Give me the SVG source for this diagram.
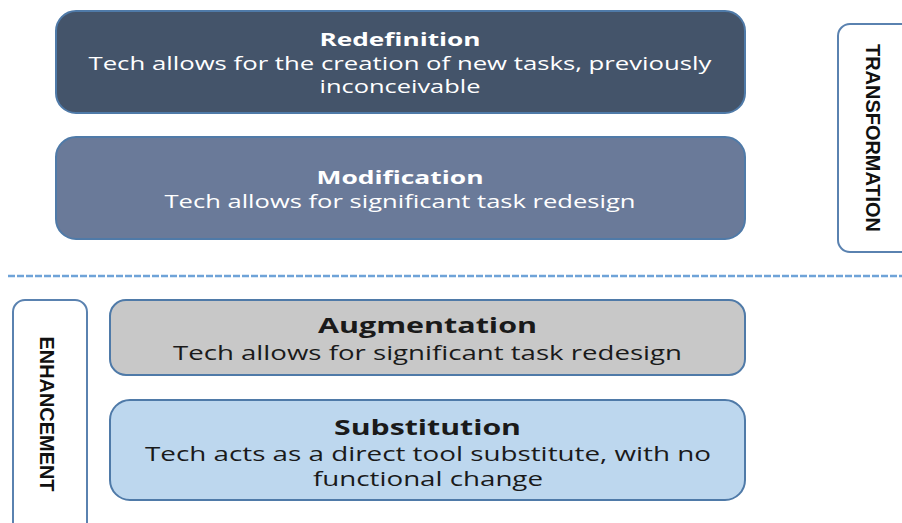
<svg xmlns="http://www.w3.org/2000/svg" width="902" height="523" viewBox="0 0 902 523">
<style>
.box{stroke:#4f7aa8;stroke-width:2}
.t{font-family:"Open Sans","Liberation Sans",sans-serif;text-anchor:middle}
.h{font-weight:bold}
.w{fill:#ffffff}
.k{fill:#1a1a1a}
.side{fill:#ffffff;stroke:#5a82b0;stroke-width:2}
.v{font-family:"Liberation Sans","DejaVu Sans",sans-serif;font-weight:bold;font-size:21px;fill:#111111;text-anchor:middle}
</style>
<rect width="902" height="523" fill="#ffffff"/>
<g id="redefinition">
<rect class="box" x="56" y="11" width="689" height="102" rx="20" fill="#44546a"/>
<text class="t h w" x="400" y="46" font-size="18" textLength="161" lengthAdjust="spacingAndGlyphs">Redefinition</text>
<text class="t w" x="400" y="70" font-size="18" textLength="623" lengthAdjust="spacingAndGlyphs">Tech allows for the creation of new tasks, previously</text>
<text class="t w" x="400" y="93" font-size="18" textLength="161" lengthAdjust="spacingAndGlyphs">inconceivable</text>
</g>
<g id="modification">
<rect class="box" x="56" y="137" width="689" height="102" rx="20" fill="#6a7a99"/>
<text class="t h w" x="400" y="184" font-size="18" textLength="167" lengthAdjust="spacingAndGlyphs">Modification</text>
<text class="t w" x="400" y="208" font-size="18" textLength="471" lengthAdjust="spacingAndGlyphs">Tech allows for significant task redesign</text>
</g>
<g id="transformation">
<rect class="side" x="838" y="24" width="80" height="228" rx="12"/>
<text class="v" transform="translate(866,138) rotate(90)" textLength="188" lengthAdjust="spacingAndGlyphs">TRANSFORMATION</text>
</g>
<g id="connectors">
<line x1="8" y1="276" x2="902" y2="276" stroke="#6fa3d8" stroke-width="2.5" stroke-dasharray="7 2"/>
</g>
<g id="enhancement">
<rect class="side" x="13" y="300" width="74" height="240" rx="12"/>
<text class="v" transform="translate(40,414) rotate(90)" textLength="155" lengthAdjust="spacingAndGlyphs">ENHANCEMENT</text>
</g>
<g id="augmentation">
<rect class="box" x="110" y="300" width="635" height="75" rx="16" fill="#c8c8c8"/>
<text class="t h k" x="427.5" y="333" font-size="22" textLength="219" lengthAdjust="spacingAndGlyphs">Augmentation</text>
<text class="t k" x="427.5" y="360" font-size="20" textLength="509" lengthAdjust="spacingAndGlyphs">Tech allows for significant task redesign</text>
</g>
<g id="substitution">
<rect class="box" x="110" y="400" width="635" height="100" rx="20" fill="#bdd7ee"/>
<text class="t h k" x="427.5" y="435" font-size="22" textLength="187" lengthAdjust="spacingAndGlyphs">Substitution</text>
<text class="t k" x="428" y="461" font-size="20" textLength="566" lengthAdjust="spacingAndGlyphs">Tech acts as a direct tool substitute, with no</text>
<text class="t k" x="428" y="486" font-size="20" textLength="230" lengthAdjust="spacingAndGlyphs">functional change</text>
</g>
</svg>
